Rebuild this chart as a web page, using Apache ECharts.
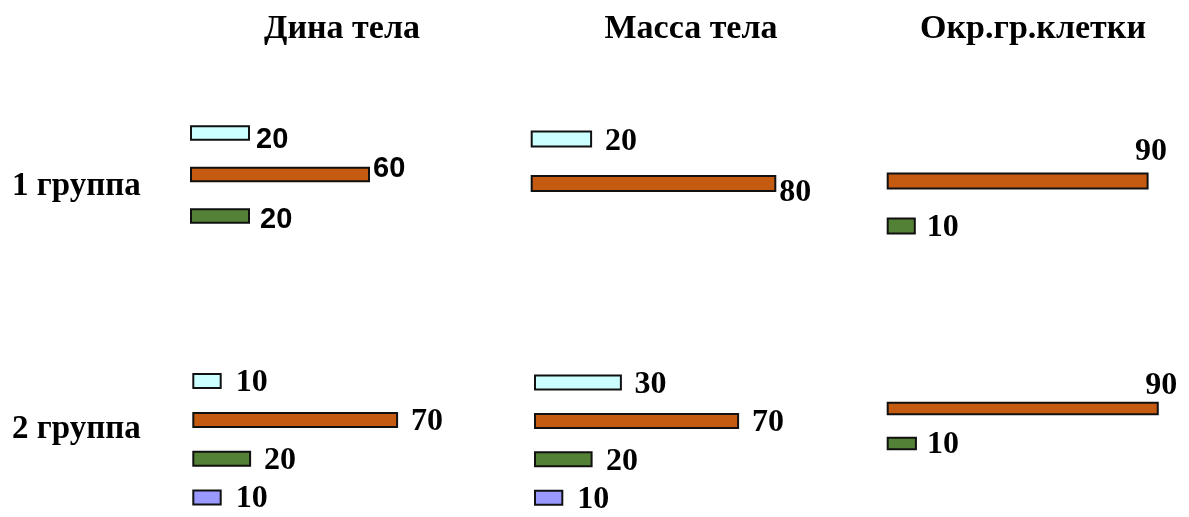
<!DOCTYPE html>
<html>
<head>
<meta charset="utf-8">
<script src="https://cdn.jsdelivr.net/npm/echarts@6/dist/echarts.min.js"></script>
<style>
  html, body { margin: 0; padding: 0; background: #fff; }
  #chart { width: 1189px; height: 517px; }
</style>
</head>
<body>
<div id="chart"></div>
<script>
// Indicator headings and group names
const panels = ['Дина тела', 'Масса тела', 'Окр.гр.клетки'];
const groups = ['1 группа', '2 группа'];

// Share of animals per indicator level, % (null = level not present)
// order of levels: light, main, green, violet
const group1Dina  = [20, 60, 20, null];
const group1Massa = [20, 80, null, null];
const group1Okr   = [null, 90, 10, null];
const group2Dina  = [10, 70, 20, 10];
const group2Massa = [30, 70, 20, 10];
const group2Okr   = [null, 90, 10, null];

const levelColors = ['#ccffff', '#c55a11', '#538135', '#9999ff'];

const SERIF = '"Liberation Serif", "Times New Roman", serif';
const SANS = '"Liberation Sans", Arial, sans-serif';

// Panel placement: one small bar grid per group and indicator
const cells = [
  { values: group1Dina,  left: 190,   width: 300, top: 112.25, height: 124.5, bar: 15.5, font: SANS, size: 29,
    offsets: [[6, 6.7], [3, -5.5], [10, 4]] },
  { values: group1Massa, left: 530.7, width: 307, top: 116.75, height: 89,    bar: 17, font: SERIF, size: 32,
    offsets: [[13, 2.7], [3, 9]] },
  { values: group1Okr,   left: 886.7, width: 291, top: 158.5,  height: 90,    bar: 17, font: SERIF, size: 32,
    offsets: [[-13.5, -29], [11, 1.6]] },
  { values: group2Dina,  left: 192.3, width: 294, top: 361.67, height: 162.67, bar: 16, font: SERIF, size: 32,
    offsets: [[14, 2], [13, 2], [13, 2], [14, 1]] },
  { values: group2Massa, left: 534,   width: 293, top: 363.25, height: 162,   bar: 16, font: SERIF, size: 32,
    offsets: [[12.5, 2.5], [13, 2], [13.5, 2], [14, 2]] },
  { values: group2Okr,   left: 886.7, width: 305, top: 391,    height: 70,    bar: 13.5, font: SERIF, size: 32,
    offsets: [[-13.5, -22.5], [10, 1.5]] }
];

const grid = [], xAxis = [], yAxis = [], series = [];
cells.forEach((c, gi) => {
  const present = [];
  c.values.forEach((v, li) => { if (v !== null) present.push(li); });
  grid.push({ left: c.left, top: c.top, width: c.width, height: c.height, containLabel: false });
  xAxis.push({ type: 'value', gridIndex: gi, min: 0, max: 100, show: false });
  yAxis.push({ type: 'category', gridIndex: gi, inverse: true, show: false,
               data: present.map(li => 'L' + li) });
  series.push({
    type: 'bar',
    xAxisIndex: gi,
    yAxisIndex: gi,
    barWidth: c.bar,
    silent: true,
    data: present.map((li, k) => ({
      value: c.values[li],
      itemStyle: { color: levelColors[li], borderColor: '#111', borderWidth: 2 },
      label: {
        show: true,
        position: 'right',
        distance: 0,
        offset: c.offsets[k],
        formatter: '{c}',
        color: '#000',
        fontWeight: 'bold',
        fontFamily: c.font,
        fontSize: c.size
      }
    }))
  });
});

// Headings and group captions
const headX = [342, 691, 1033];
const graphic = panels.map((t, i) => ({
  type: 'text', x: headX[i], y: 29, silent: true,
  style: { text: t, fontFamily: SERIF, fontWeight: 'bold', fontSize: 34, fill: '#000',
           align: 'center', verticalAlign: 'middle' }
}));
const groupY = [186, 429];
groups.forEach((g, i) => graphic.push({
  type: 'text', x: 12, y: groupY[i], silent: true,
  style: { text: g, fontFamily: SERIF, fontWeight: 'bold', fontSize: 33, fill: '#000',
           align: 'left', verticalAlign: 'middle' }
}));

const chart = echarts.init(document.getElementById('chart'), null, { renderer: 'canvas' });
chart.setOption({
  animation: false,
  backgroundColor: '#fff',
  grid, xAxis, yAxis, series, graphic
});
</script>
</body>
</html>
